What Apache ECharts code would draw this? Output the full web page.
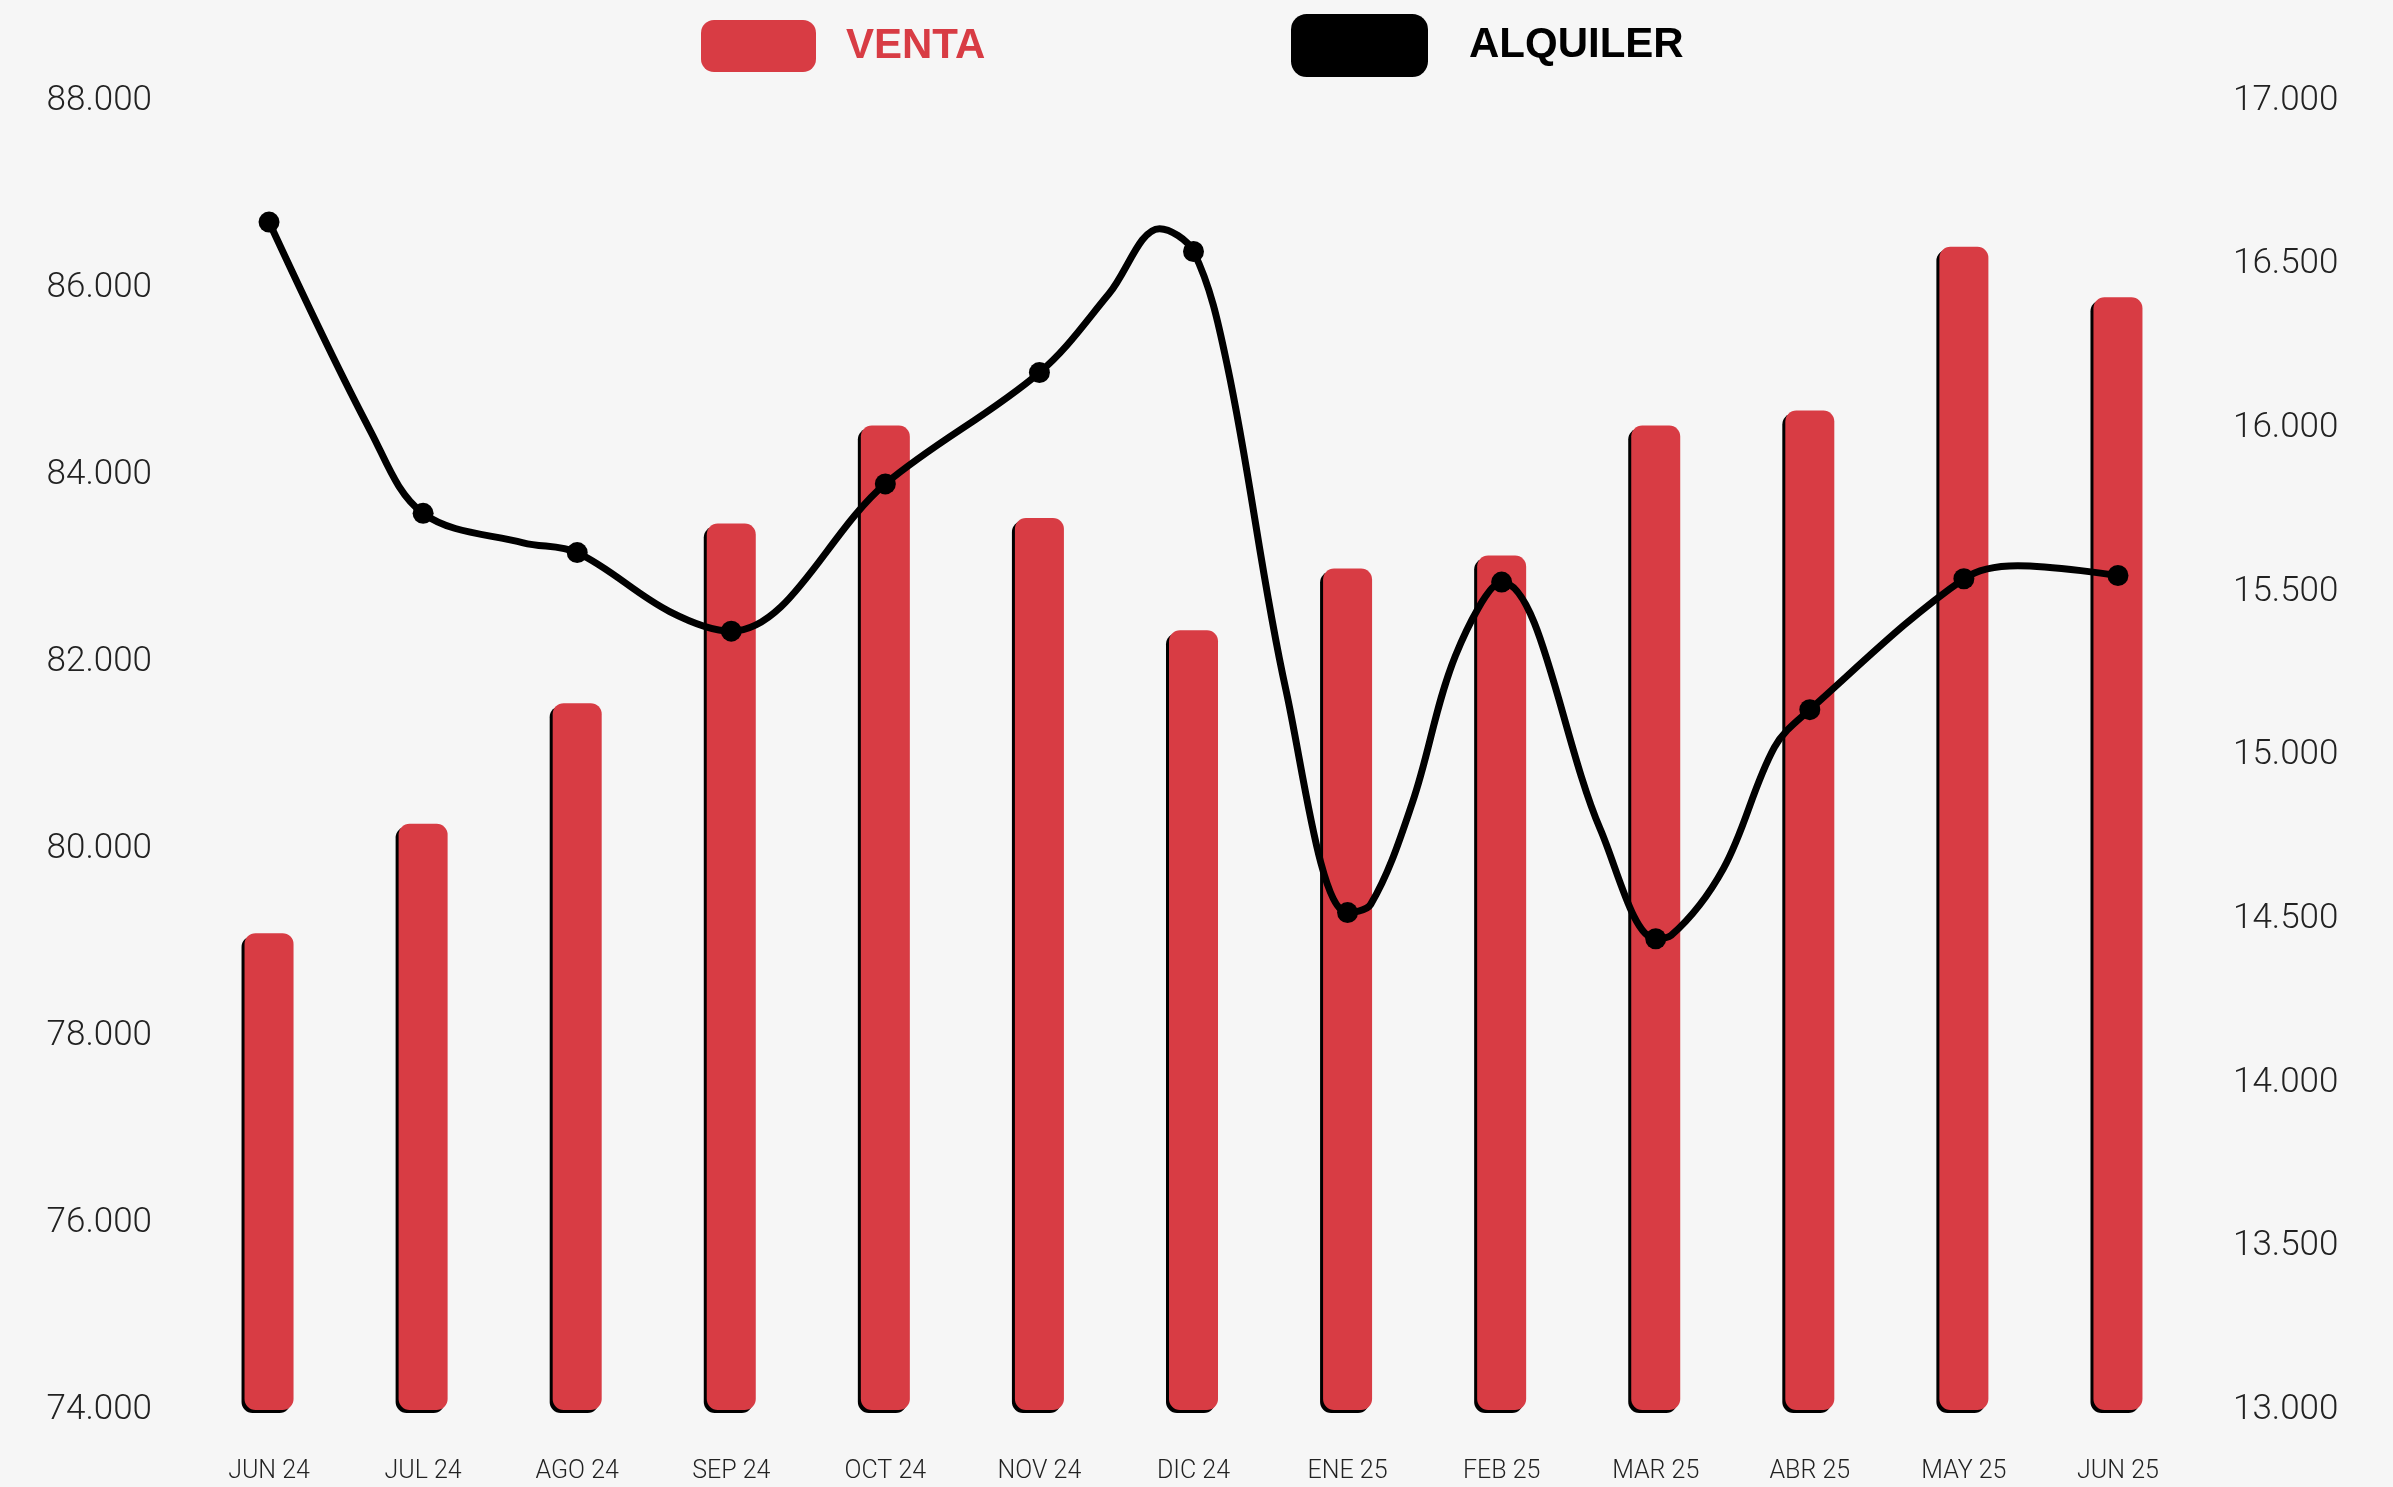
<!DOCTYPE html>
<html>
<head>
<meta charset="utf-8">
<title>Venta y alquiler</title>
<script src="https://cdn.jsdelivr.net/npm/echarts@6/dist/echarts.min.js"></script>
<style>
  html, body { margin: 0; padding: 0; background: #f6f6f6; }
  #chart { width: 2393px; height: 1487px; }
</style>
</head>
<body>
<div id="chart"></div>
<script>
// categorias (meses)
const meses = ['JUN 24', 'JUL 24', 'AGO 24', 'SEP 24', 'OCT 24', 'NOV 24', 'DIC 24',
  'ENE 25', 'FEB 25', 'MAR 25', 'ABR 25', 'MAY 25', 'JUN 25']

// VENTA (eje izquierdo)
const venta = [79100, 80270, 81560, 83480, 84530, 83540, 82340, 83000, 83140, 84530, 84690, 86440, 85900]

// ALQUILER mensual (eje derecho), los puntos marcados
const alquiler = [16630, 15740, 15620, 15380, 15830, 16170, 16540, 14520, 15530, 14440, 15140, 15540, 15550]

// ALQUILER lecturas intermedias de la curva [posicion en meses, valor]
const alquilerTramos = [
  [0.66, 15990], [1.65, 15650], [2.6, 15440], [5.45, 16410], [5.78, 16610],
  [6.22, 16190], [6.6, 15200], [7.15, 14545], [7.42, 14855], [7.7, 15305],
  [8.64, 14775], [9.1, 14450], [9.44, 14655], [9.77, 15025], [11.35, 15580]
]

// ticks
const ventaTicks = { min: 74000, max: 88000, interval: 2000 }
const alquilerTicks = { min: 13000, max: 17000, interval: 500 }

const rojo = '#d83c44'
const fuente = 'Liberation Sans, Arial, sans-serif'
const fuenteFina = 'Roboto, Liberation Sans, sans-serif'

const alquilerCurva = alquiler.map((v, i) => [i, v])
  .concat(alquilerTramos)
  .sort((a, b) => a[0] - b[0])

const miles = v => (v / 1000).toFixed(3)

const chart = echarts.init(document.getElementById('chart'))

chart.setOption({
  backgroundColor: '#f6f6f6',
  animation: false,
  textStyle: { fontFamily: fuente },
  legend: [{
    data: [{ name: 'VENTA', icon: 'roundRect' }],
    left: 701,
    top: 20,
    padding: 0,
    itemWidth: 115,
    itemHeight: 52,
    itemStyle: { borderWidth: 0 },
    textStyle: { color: rojo, fontSize: 42, fontWeight: 'bold', fontFamily: fuente, padding: [0, 0, 0, 25] }
  }, {
    data: [{ name: 'ALQUILER', icon: 'roundRect' }],
    left: 1291,
    top: 14,
    padding: 0,
    itemWidth: 137,
    itemHeight: 63,
    itemStyle: { borderWidth: 0 },
    textStyle: { color: '#000', fontSize: 42, fontWeight: 'bold', fontFamily: fuente, padding: [0, 0, 0, 36] }
  }],
  grid: {
    left: 192,
    right: 198,
    top: 101,
    bottom: 77,
    containLabel: false
  },
  xAxis: [{
    type: 'category',
    data: meses,
    axisLine: { show: false },
    axisTick: { show: false },
    splitLine: { show: false },
    axisLabel: { color: '#222', fontSize: 25, fontWeight: 300, fontFamily: fuenteFina, margin: 49 }
  }, {
    // eje oculto para la curva de alquiler
    type: 'value',
    min: -0.5,
    max: meses.length - 0.5,
    show: false
  }],
  yAxis: [{
    type: 'value',
    min: ventaTicks.min,
    max: ventaTicks.max,
    interval: ventaTicks.interval,
    axisLine: { show: false },
    axisTick: { show: false },
    splitLine: { show: false },
    axisLabel: { color: '#222', fontSize: 35, fontWeight: 300, fontFamily: fuenteFina, margin: 40, padding: [6, 0, 0, 0], formatter: miles }
  }, {
    type: 'value',
    position: 'right',
    min: alquilerTicks.min,
    max: alquilerTicks.max,
    interval: alquilerTicks.interval,
    axisLine: { show: false },
    axisTick: { show: false },
    splitLine: { show: false },
    axisLabel: { color: '#222', fontSize: 35, fontWeight: 300, fontFamily: fuenteFina, margin: 38, padding: [6, 0, 0, 0], formatter: miles }
  }],
  series: [{
    name: 'VENTA',
    type: 'bar',
    data: venta,
    barWidth: 49,
    itemStyle: {
      color: rojo,
      borderRadius: 11,
      shadowColor: '#000',
      shadowBlur: 0,
      shadowOffsetX: -3,
      shadowOffsetY: 3
    },
    z: 2
  }, {
    name: 'ALQUILER',
    type: 'line',
    xAxisIndex: 1,
    yAxisIndex: 1,
    data: alquilerCurva,
    smooth: 0.35,
    showSymbol: false,
    itemStyle: { color: '#000' },
    lineStyle: { color: '#000', width: 7 },
    z: 3
  }, {
    name: 'ALQUILER',
    type: 'scatter',
    yAxisIndex: 1,
    data: alquiler,
    symbolSize: 21,
    itemStyle: { color: '#000', opacity: 1 },
    z: 4
  }]
})
</script>
</body>
</html>
